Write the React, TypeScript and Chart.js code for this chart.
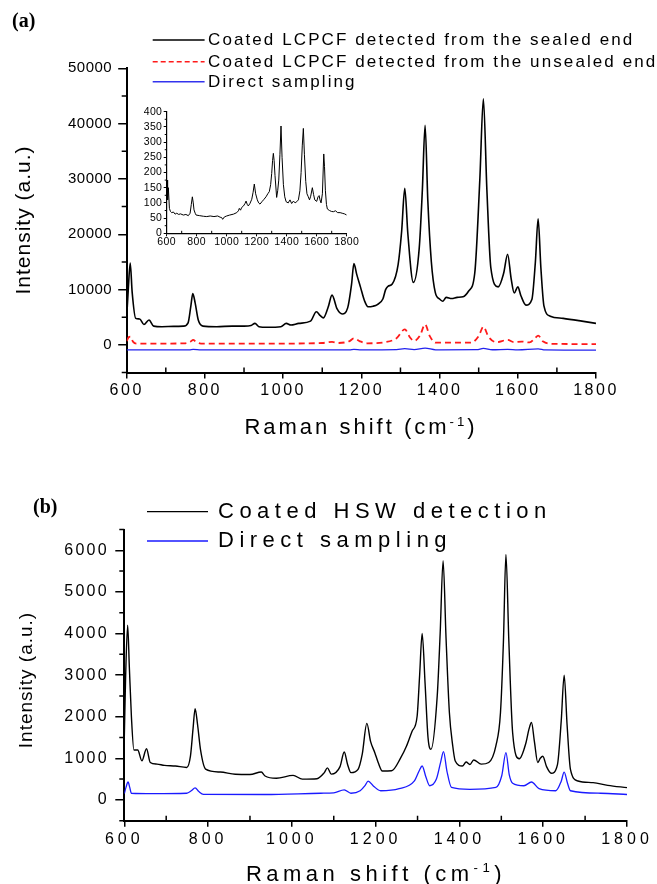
import React, { useEffect, useRef } from "react";
import { Chart, registerables } from "chart.js";

Chart.register(...registerables);

// ---------------- data ----------------
const aXTicks = [600, 800, 1000, 1200, 1400, 1600, 1800];
const aXMinor = [700, 900, 1100, 1300, 1500, 1700];
const aYTicks = [0, 10000, 20000, 30000, 40000, 50000];
const aYMinor = [-5000, 5000, 15000, 25000, 35000, 45000];

const bYTicks = [0, 1000, 2000, 3000, 4000, 5000, 6000];
const bYMinor = [-500, 500, 1500, 2500, 3500, 4500, 5500, 6500];

const insetYTicks = [0, 50, 100, 150, 200, 250, 300, 350, 400];
const insetYMinor = [25, 75, 125, 175, 225, 275, 325, 375];

const aLegend = [
  "Coated LCPCF detected from the sealed end",
  "Coated LCPCF detected from the unsealed end",
  "Direct sampling",
];
const bLegend = ["Coated HSW detection", "Direct sampling"];

const aSealedX = [600, 604, 609, 614, 623, 633, 644, 657, 669, 690,
  720, 745, 757, 764, 769, 775, 783, 795, 830, 870,
  900, 918, 928, 938, 960, 994, 1008, 1020, 1040, 1070,
  1085, 1095, 1103, 1115, 1125, 1138, 1151, 1165, 1175, 1181,
  1188, 1198, 1208, 1217, 1230, 1241, 1255, 1262, 1268, 1279,
  1294, 1303, 1311, 1319, 1333, 1348, 1356, 1363, 1370, 1379,
  1389, 1400, 1408, 1417, 1431, 1445, 1460, 1474, 1490, 1503,
  1512, 1521, 1531, 1550, 1564, 1574, 1583, 1591, 1600, 1608,
  1621, 1636, 1645, 1652, 1659, 1667, 1683, 1716, 1764, 1800];
const aSealedY = [5000, 10000, 14800, 9500, 4800, 4700, 3700, 4500, 3400, 3300,
  3350, 3400, 4000, 7000, 9300, 7600, 4500, 3400, 3300, 3400,
  3400, 3500, 3900, 3300, 3200, 3300, 3900, 3600, 3900, 4300,
  6000, 5300, 4900, 6800, 9000, 6500, 5600, 6700, 11000, 14700,
  12800, 10400, 8000, 6900, 7000, 7300, 8300, 10000, 10600, 11000,
  14500, 20500, 28300, 20000, 11300, 17500, 28000, 39700, 26000, 15000,
  9500, 8300, 7900, 8600, 8400, 8600, 8700, 9700, 13000, 30000,
  44500, 28000, 14000, 10500, 13000, 16400, 12000, 9400, 10500, 8900,
  7200, 8200, 15000, 22800, 14000, 7000, 5200, 4800, 4300, 3900];

const aUnsealedX = [600, 605, 610, 616, 625, 700, 750, 763, 770, 778,
  790, 1000, 1100, 1125, 1140, 1170, 1181, 1195, 1215, 1260,
  1290, 1311, 1325, 1335, 1350, 1363, 1375, 1390, 1480, 1500,
  1512, 1525, 1545, 1574, 1590, 1610, 1630, 1645, 1652, 1665,
  1690, 1800];
const aUnsealedY = [700, 1400, 1500, 600, 250, 250, 300, 600, 900, 500,
  250, 250, 350, 550, 350, 700, 1200, 700, 300, 500,
  1200, 2800, 1300, 700, 1700, 3700, 1600, 400, 400, 1600,
  3300, 1500, 500, 900, 500, 600, 450, 1300, 1700, 600,
  200, 150];

const aDirectX = [600, 760, 770, 790, 1170, 1181, 1200, 1290, 1311, 1335,
  1363, 1390, 1495, 1512, 1535, 1574, 1600, 1652, 1670, 1800];
const aDirectY = [-900, -880, -800, -900, -900, -800, -900, -850, -680, -850,
  -580, -880, -850, -620, -870, -800, -880, -700, -900, -950];

const bCoatedX = [600, 603, 608, 612, 617, 623, 632, 642, 653, 662,
  678, 696, 722, 749, 758, 764, 769, 775, 782, 794,
  829, 865, 900, 927, 936, 963, 1003, 1025, 1060, 1077,
  1085, 1094, 1115, 1125, 1133, 1141, 1158, 1168, 1179, 1188,
  1198, 1206, 1216, 1238, 1260, 1274, 1287, 1299, 1305, 1311,
  1318, 1325, 1332, 1347, 1354, 1361, 1368, 1376, 1384, 1390,
  1407, 1416, 1425, 1434, 1452, 1470, 1487, 1498, 1505, 1511,
  1518, 1527, 1543, 1559, 1566, 1572, 1579, 1587, 1593, 1599,
  1608, 1619, 1634, 1643, 1650, 1657, 1665, 1683, 1719, 1754,
  1800];
const bCoatedY = [1500, 2900, 4200, 3200, 2000, 1200, 1200, 940, 1230, 900,
  860, 830, 815, 780, 1060, 1700, 2190, 1800, 1200, 740,
  670, 615, 610, 670, 575, 520, 590, 500, 510, 650,
  770, 620, 800, 1150, 850, 655, 735, 1100, 1840, 1400,
  1135, 900, 695, 700, 1015, 1300, 1650, 2010, 3000, 4000,
  2800, 1500, 1215, 2500, 4000, 5750, 3900, 2100, 1300, 935,
  815, 910, 850, 960, 860, 900, 1300, 2100, 3800, 5900,
  3800, 1615, 990, 1380, 1700, 1860, 1400, 900, 1000, 1050,
  800, 640, 850, 1900, 3000, 1800, 735, 455, 415, 350,
  295];

const bDirectX = [600, 604, 609, 613, 617, 669, 749, 760, 769, 778,
  789, 936, 1069, 1100, 1125, 1141, 1163, 1175, 1182, 1195,
  1212, 1256, 1292, 1304, 1311, 1320, 1329, 1345, 1355, 1362,
  1370, 1381, 1425, 1487, 1501, 1511, 1519, 1527, 1554, 1572,
  1590, 1630, 1643, 1650, 1658, 1665, 1737, 1800];
const bDirectY = [150, 300, 430, 300, 160, 150, 160, 220, 290, 200,
  135, 130, 160, 170, 240, 160, 220, 350, 450, 330,
  220, 270, 450, 700, 815, 550, 340, 500, 900, 1160,
  700, 300, 255, 300, 580, 1135, 600, 400, 340, 430,
  270, 220, 450, 670, 400, 220, 160, 130];

const insetX = [600, 602, 604, 608, 611, 618, 625, 633, 645, 656,
  667, 680, 692, 711, 728, 744, 756, 764, 771, 777,
  782, 790, 796, 820, 845, 867, 890, 915, 940, 956,
  966, 973, 985, 1000, 1020, 1045, 1067, 1078, 1084, 1092,
  1100, 1112, 1122, 1129, 1137, 1144, 1155, 1167, 1176, 1184,
  1193, 1204, 1213, 1222, 1235, 1249, 1262, 1274, 1284, 1293,
  1300, 1306, 1311, 1316, 1322, 1333, 1340, 1347, 1355, 1362,
  1369, 1378, 1387, 1396, 1410, 1422, 1433, 1445, 1456, 1467,
  1478, 1488, 1496, 1504, 1511, 1518, 1527, 1535, 1544, 1552,
  1560, 1571, 1579, 1587, 1600, 1609, 1616, 1622, 1629, 1638,
  1647, 1652, 1658, 1665, 1671, 1685, 1698, 1711, 1725, 1740,
  1756, 1770, 1785, 1800];
const insetY = [120, 175, 165, 110, 150, 82, 72, 68, 70, 63,
  66, 62, 64, 60, 62, 58, 66, 95, 120, 100,
  77, 66, 60, 58, 56, 55, 57, 55, 57, 53,
  52, 46, 54, 57, 60, 63, 68, 74, 82, 76,
  85, 90, 98, 106, 95, 90, 98, 112, 135, 162,
  130, 110, 100, 96, 104, 112, 120, 130, 137, 160,
  197, 240, 263, 240, 190, 118, 140, 175, 260, 353,
  250, 160, 120, 104, 100, 110, 98, 106, 100, 104,
  110, 140, 200, 290, 345, 260, 170, 130, 120, 110,
  122, 150, 128, 110, 105, 120, 124, 110, 100, 130,
  261, 220, 140, 95, 80, 75, 72, 71, 74, 68,
  68, 66, 64, 60];

// ---------------- helpers ----------------
const FONT = "'Liberation Sans', Arial, Helvetica, sans-serif";

const pts = (xs: number[], ys: number[]) => xs.map((x, i) => ({ x, y: ys[i] }));

const minorTicksPlugin = {
  id: "minorTicks",
  afterDraw(chart: any, _args: any, o: any) {
    const { ctx, chartArea } = chart;
    const xs = chart.scales.x;
    const ys = chart.scales.y;
    ctx.save();
    ctx.strokeStyle = "#000";
    ctx.lineWidth = o.width;
    ctx.beginPath();
    (o.xMinor || []).forEach((v: number) => {
      const px = xs.getPixelForValue(v);
      ctx.moveTo(px, chartArea.bottom);
      ctx.lineTo(px, chartArea.bottom + o.xDir * o.xLen);
    });
    (o.yMinor || []).forEach((v: number) => {
      const py = ys.getPixelForValue(v);
      ctx.moveTo(chartArea.left, py);
      ctx.lineTo(chartArea.left - o.yLen, py);
    });
    ctx.stroke();
    ctx.restore();
  },
};

const spacingPlugin = {
  id: "spacing",
  beforeDraw(chart: any, _a: any, o: any) {
    (chart.ctx as any).letterSpacing = o.y + "px";
  },
  afterDatasetsDraw(chart: any, _a: any, o: any) {
    (chart.ctx as any).letterSpacing = o.x + "px";
  },
  afterDraw(chart: any) {
    (chart.ctx as any).letterSpacing = "0px";
  },
};

function axis(o: any) {
  return {
    type: "linear",
    min: o.min,
    max: o.max,
    afterBuildTicks: (s: any) => {
      s.ticks = o.ticks.map((v: number) => ({ value: v }));
    },
    afterFit: (s: any) => {
      if (o.isX) s.height = o.fit;
      else s.width = o.fit;
    },
    grid: {
      display: true,
      drawOnChartArea: false,
      drawTicks: true,
      tickLength: o.tickLen,
      color: "#000",
      lineWidth: o.tickWidth,
    },
    border: { display: true, color: "#000", width: o.border },
    ticks: {
      color: "#000",
      font: { family: FONT, size: o.fontSize },
      padding: o.pad,
      autoSkip: false,
      maxRotation: 0,
      minRotation: 0,
      z: o.isX ? 1 : 0,
      callback: (v: any) => String(v),
    },
  };
}

function lineDs(data: any[], color: string, width: number, extra: any = {}) {
  return {
    data,
    borderColor: color,
    borderWidth: width,
    pointRadius: 0,
    fill: false,
    cubicInterpolationMode: "monotone",
    ...extra,
  };
}

function baseOptions(padding: any, scales: any, minor: any, spacing: any) {
  return {
    animation: false,
    responsive: false,
    maintainAspectRatio: false,
    events: [],
    layout: { padding },
    plugins: {
      legend: { display: false },
      tooltip: { enabled: false },
      title: { display: false },
      minorTicks: minor,
      spacing,
    },
    scales,
  };
}

// ---------------- component ----------------
const txt: React.CSSProperties = {
  position: "absolute",
  fontFamily: FONT,
  color: "#000",
  whiteSpace: "nowrap",
  lineHeight: 1,
  margin: 0,
};

export default function App() {
  const aRef = useRef<HTMLCanvasElement>(null);
  const insetRef = useRef<HTMLCanvasElement>(null);
  const bRef = useRef<HTMLCanvasElement>(null);

  useEffect(() => {
    const charts: Chart[] = [];

    charts.push(
      new Chart(aRef.current as HTMLCanvasElement, {
        type: "line",
        data: {
          datasets: [
            lineDs(pts(aSealedX, aSealedY), "#000000", 1.6),
            lineDs(pts(aUnsealedX, aUnsealedY), "#ff1a1a", 1.8, { borderDash: [6, 4] }),
            lineDs(pts(aDirectX, aDirectY), "#2222ee", 1.3),
          ],
        } as any,
        options: baseOptions(
          { left: 0, top: 68.3, right: 61, bottom: 57.4 },
          {
            x: axis({ isX: true, min: 600, max: 1800, ticks: aXTicks, fit: 30, tickLen: 6, tickWidth: 1.5, border: 2, fontSize: 16, pad: 2.8 }),
            y: axis({ isX: false, min: -5000, max: 50000, ticks: aYTicks, fit: 126.7, tickLen: 8.5, tickWidth: 1.5, border: 2, fontSize: 15, pad: 6 }),
          },
          { xMinor: aXMinor, yMinor: aYMinor, xLen: 5, xDir: -1, yLen: 5, width: 1.5 },
          { x: 2.5, y: 0.5 }
        ) as any,
        plugins: [minorTicksPlugin, spacingPlugin] as any,
      })
    );

    charts.push(
      new Chart(insetRef.current as HTMLCanvasElement, {
        type: "line",
        data: {
          datasets: [lineDs(pts(insetX, insetY), "#000000", 1, { cubicInterpolationMode: "default", tension: 0 })],
        } as any,
        options: baseOptions(
          { left: 0, top: 11.7, right: 23.3, bottom: 8.7 },
          {
            x: axis({ isX: true, min: 600, max: 1800, ticks: aXTicks, fit: 18, tickLen: 3, tickWidth: 1, border: 1.2, fontSize: 10.5, pad: 0 }),
            y: axis({ isX: false, min: 0, max: 400, ticks: insetYTicks, fit: 46.7, tickLen: 3, tickWidth: 1, border: 1.2, fontSize: 10.5, pad: 1.5 }),
          },
          { xMinor: aXMinor, yMinor: insetYMinor, xLen: 2.5, xDir: -1, yLen: 2, width: 1 },
          { x: 0.4, y: 0.3 }
        ) as any,
        plugins: [minorTicksPlugin, spacingPlugin] as any,
      })
    );

    charts.push(
      new Chart(bRef.current as HTMLCanvasElement, {
        type: "line",
        data: {
          datasets: [
            lineDs(pts(bCoatedX, bCoatedY), "#000000", 1.4),
            lineDs(pts(bDirectX, bDirectY), "#1a1aff", 1.3),
          ],
        } as any,
        options: baseOptions(
          { left: 0, top: 59.5, right: 30, bottom: 33.3 },
          {
            x: axis({ isX: true, min: 600, max: 1800, ticks: aXTicks, fit: 30, tickLen: 6, tickWidth: 1.5, border: 2, fontSize: 16, pad: 3.7 }),
            y: axis({ isX: false, min: -500, max: 6500, ticks: bYTicks, fit: 124.3, tickLen: 9, tickWidth: 1.5, border: 2, fontSize: 16, pad: 6.3 }),
          },
          { xMinor: aXMinor, yMinor: bYMinor, xLen: 5, xDir: -1, yLen: 5, width: 1.5 },
          { x: 4, y: 2.3 }
        ) as any,
        plugins: [minorTicksPlugin, spacingPlugin] as any,
      })
    );

    return () => charts.forEach((c) => c.destroy());
  }, []);

  const sup = (
    <span style={{ fontSize: "0.6em", position: "relative", top: "-0.65em" }}>-1</span>
  );

  return (
    <div
      style={{
        position: "absolute",
        left: 0,
        top: 0,
        width: 657,
        height: 884,
        background: "#ffffff",
        overflow: "hidden",
      }}
    >
      <canvas ref={aRef} width={657} height={460} style={{ position: "absolute", left: 0, top: 0, width: 657, height: 460 }} />
      <canvas ref={bRef} width={657} height={414} style={{ position: "absolute", left: 0, top: 470, width: 657, height: 414 }} />
      <canvas ref={insetRef} width={250} height={160} style={{ position: "absolute", left: 120, top: 100, width: 250, height: 160 }} />

      {/* panel labels */}
      <div style={{ ...txt, fontFamily: "'Liberation Serif', 'Times New Roman', serif", fontWeight: "bold", fontSize: 20, left: 12, top: 10 }}>(a)</div>
      <div style={{ ...txt, fontFamily: "'Liberation Serif', 'Times New Roman', serif", fontWeight: "bold", fontSize: 20, left: 33, top: 496 }}>(b)</div>

      {/* legend samples */}
      <svg width={657} height={884} style={{ position: "absolute", left: 0, top: 0, pointerEvents: "none" }}>
        <line x1={152.7} x2={204.6} y1={40} y2={40} stroke="#000" strokeWidth={1.5} />
        <line x1={152.7} x2={204.6} y1={61.7} y2={61.7} stroke="#ff1a1a" strokeWidth={1.5} strokeDasharray="5 3" />
        <line x1={152.7} x2={204.6} y1={81.7} y2={81.7} stroke="#3333ee" strokeWidth={1.5} />
        <line x1={147} x2={208} y1={511.7} y2={511.7} stroke="#000" strokeWidth={1.3} />
        <line x1={147} x2={208} y1={541} y2={541} stroke="#1a1aff" strokeWidth={1.3} />
      </svg>
      <div style={{ ...txt, fontSize: 17, letterSpacing: "2.1px", left: 208, top: 31.2 }}>{aLegend[0]}</div>
      <div style={{ ...txt, fontSize: 17, letterSpacing: "2.1px", left: 208, top: 52.7 }}>{aLegend[1]}</div>
      <div style={{ ...txt, fontSize: 17, letterSpacing: "2.1px", left: 208, top: 72.7 }}>{aLegend[2]}</div>

      <div style={{ ...txt, fontSize: 22, letterSpacing: "5.5px", left: 218, top: 499.7 }}>{bLegend[0]}</div>
      <div style={{ ...txt, fontSize: 22, letterSpacing: "5.5px", left: 218, top: 529.2 }}>{bLegend[1]}</div>

      {/* axis titles */}
      <div style={{ ...txt, fontSize: 22, letterSpacing: "3px", left: 361, top: 416.2, transform: "translateX(-50%)" }}>
        Raman shift (cm{sup})
      </div>
      <div style={{ ...txt, fontSize: 22, letterSpacing: "4.5px", left: 376, top: 862.7, transform: "translateX(-50%)" }}>
        Raman shift (cm{sup})
      </div>
      <div style={{ ...txt, fontSize: 21, letterSpacing: "1px", left: 22, top: 220, transform: "translate(-50%, -50%) rotate(-90deg)" }}>
        Intensity (a.u.)
      </div>
      <div style={{ ...txt, fontSize: 19, letterSpacing: "1px", left: 25, top: 680, transform: "translate(-50%, -50%) rotate(-90deg)" }}>
        Intensity (a.u.)
      </div>
    </div>
  );
}
